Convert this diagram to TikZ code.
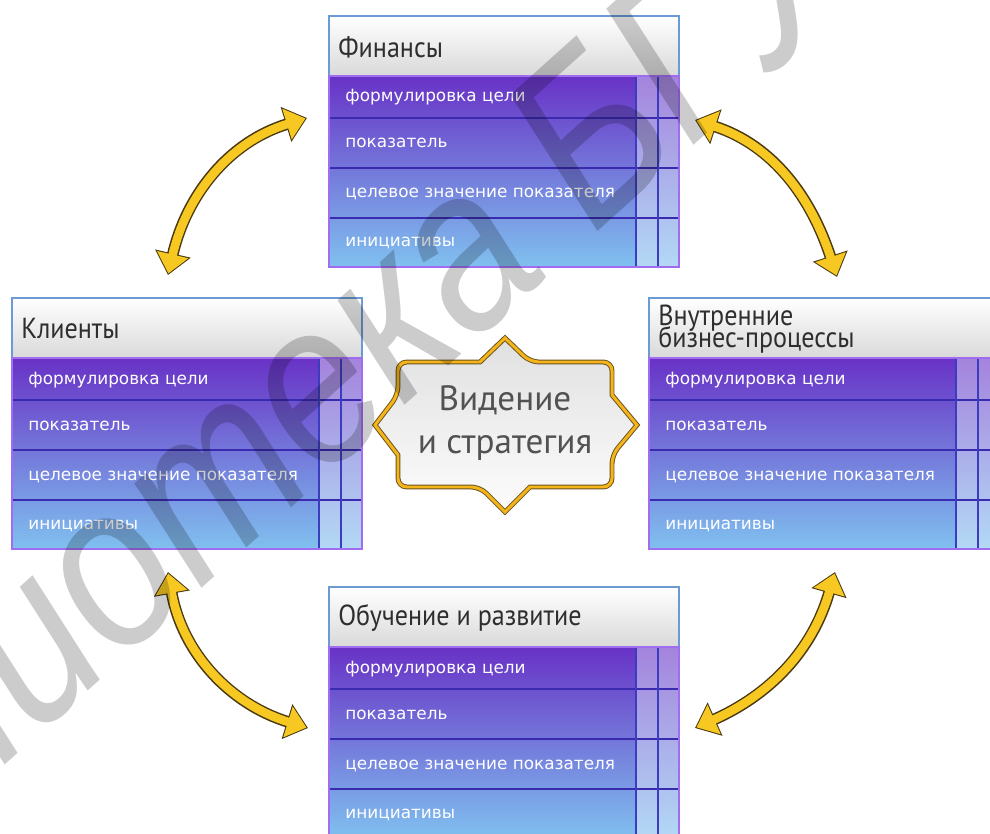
\documentclass[tikz,border=0pt]{standalone}
\usepackage{fontspec}
\setmainfont{PT Sans}
\newfontfamily\headfont[FakeStretch=0.9]{PT Sans}
\newfontfamily\rowfont{DejaVu Sans}
\newfontfamily\markfont[FakeStretch=0.85]{Liberation Sans}
\usetikzlibrary{arrows.meta}

\definecolor{hdbot}{HTML}{D9D9D9}
\definecolor{hdline}{HTML}{6C9AD4}
\definecolor{hdink}{HTML}{2E2E2E}
\definecolor{rowtop}{HTML}{6832C6}
\definecolor{rowmid}{HTML}{7470D8}
\definecolor{rowbot}{HTML}{80C0EF}
\definecolor{rowline}{HTML}{3A2AB0}
\definecolor{colline}{HTML}{3C3CC0}
\definecolor{boxline}{HTML}{A06CF0}
\definecolor{gold}{HTML}{F4B41A}
\definecolor{golddark}{HTML}{6B5420}
\definecolor{arrowfill}{HTML}{F8C822}
\definecolor{arrowdark}{HTML}{4A3A10}

\tikzset{
  hdtext/.style={font=\headfont\fontsize{16.5}{14}\selectfont, text=hdink, align=left, inner sep=0pt},
  rowtext/.style={font=\rowfont\fontsize{9.6}{11}\selectfont, text=white, inner sep=0pt},
  rowsep/.style={draw=rowline, line width=0.8pt},
  colsep/.style={draw=colline, line width=0.8pt},
  vision/.style={font=\fontsize{20}{24}\selectfont, text=black!68, align=center},
  goldedge/.style={draw=gold, line width=1.7pt},
  twowaydark/.style={draw=arrowdark, line width=6.6pt, {Triangle[length=12.5pt,width=20pt]}-{Triangle[length=12.5pt,width=20pt]}},
  twowayfill/.style={draw=arrowfill, line width=4.9pt, shorten <=0.9pt, shorten >=0.9pt,
    {Triangle[length=11pt,width=17.6pt]}-{Triangle[length=11pt,width=17.6pt]}},
  watermark/.style={font=\markfont\itshape\fontsize{132}{132}\selectfont, text=black, opacity=0.2}
}

% one perspective: name, left x, top y, title
\newcommand{\perspbox}[4]{%
  \shade[top color=white, bottom color=hdbot, draw=hdline, line width=0.6pt] (#2,#3) rectangle ++(350,-60);
  \node[hdtext, anchor=west] (#1) at ({#2+9},{#3-31}) {#4};
  \shade[top color=rowtop, middle color=rowmid, bottom color=rowbot] ({#2},{#3-60}) rectangle ++(350,-191);
  \fill[white, opacity=0.4] ({#2+307},{#3-60}) rectangle ++(43,-191);
  \foreach \yy in {102,152,202}
    \draw[rowsep] ({#2},{#3-\yy}) -- ++(350,0);
  \foreach \xx in {307,329}
    \draw[colsep] ({#2+\xx},{#3-60}) -- ++(0,-191);
  \draw[draw=boxline, line width=1.1pt] ({#2},{#3-60}) rectangle ++(350,-191);
  \foreach \lbl/\yy [count=\i] in {формулировка цели/86, показатель/132, целевое значение показателя/182, инициативы/231}
    \node[rowtext, anchor=base west] (#1-\i) at ({#2+16},{#3-\yy}) {\lbl};
}

\begin{document}
\begin{tikzpicture}[x=0.02cm, y=0.02cm]

  \useasboundingbox (0,0) rectangle (990,-834);
  \clip (0,0) rectangle (990,-834);
  \fill[white] (0,0) rectangle (990,-834);

  % four perspectives
  \perspbox{fin}{329}{-16}{Финансы}
  \perspbox{cli}{12}{-298}{Клиенты}
  \perspbox{proc}{649}{-298}{Внутренние\\[-4pt]бизнес-процессы}
  \perspbox{learn}{329}{-587}{Обучение и развитие}

  % vision in the middle
  \shade[top color=black!12, bottom color=black!1, draw=golddark, line width=2.8pt]
    (398,-395) -- (375,-425) -- (398,-455) [rounded corners=5pt] -- (398,-487) -- (480,-487) [sharp corners]
    -- (505,-512) -- (530,-487) [rounded corners=5pt] -- (612,-487) -- (612,-455) [sharp corners]
    -- (637,-425) -- (612,-395) [rounded corners=5pt] -- (612,-362) -- (530,-362) [sharp corners]
    -- (505,-338) -- (480,-362) [rounded corners=5pt] -- (398,-362) -- cycle;
  \draw[goldedge]
    (398,-395) -- (375,-425) -- (398,-455) [rounded corners=5pt] -- (398,-487) -- (480,-487) [sharp corners]
    -- (505,-512) -- (530,-487) [rounded corners=5pt] -- (612,-487) -- (612,-455) [sharp corners]
    -- (637,-425) -- (612,-395) [rounded corners=5pt] -- (612,-362) -- (530,-362) [sharp corners]
    -- (505,-338) -- (480,-362) [rounded corners=5pt] -- (398,-362) -- cycle;
  \node[vision] (vis) at (505,-423) {Видение\\и стратегия};

  % arrow ends
  \coordinate (tl-a) at (168,-275);
  \coordinate (tl-b) at (307,-118);
  \coordinate (tr-a) at (695,-120);
  \coordinate (tr-b) at (837,-277);
  \coordinate (bl-a) at (168,-572);
  \coordinate (bl-b) at (308,-728);
  \coordinate (br-a) at (835,-572);
  \coordinate (br-b) at (695,-728);

  \foreach \s/\e/\o/\n in {tl-a/tl-b/77/197, tr-a/tr-b/-18/108, bl-a/bl-b/-80/163, br-a/br-b/-106/24} {
    \draw[twowaydark] (\s) to[out=\o, in=\n] (\e);
    \draw[twowayfill] (\s) to[out=\o, in=\n] (\e);
  }

  \node[watermark, anchor=base, rotate=42] (wm) at (280,-518) {Библиотека БГУ};

\end{tikzpicture}
\end{document}
